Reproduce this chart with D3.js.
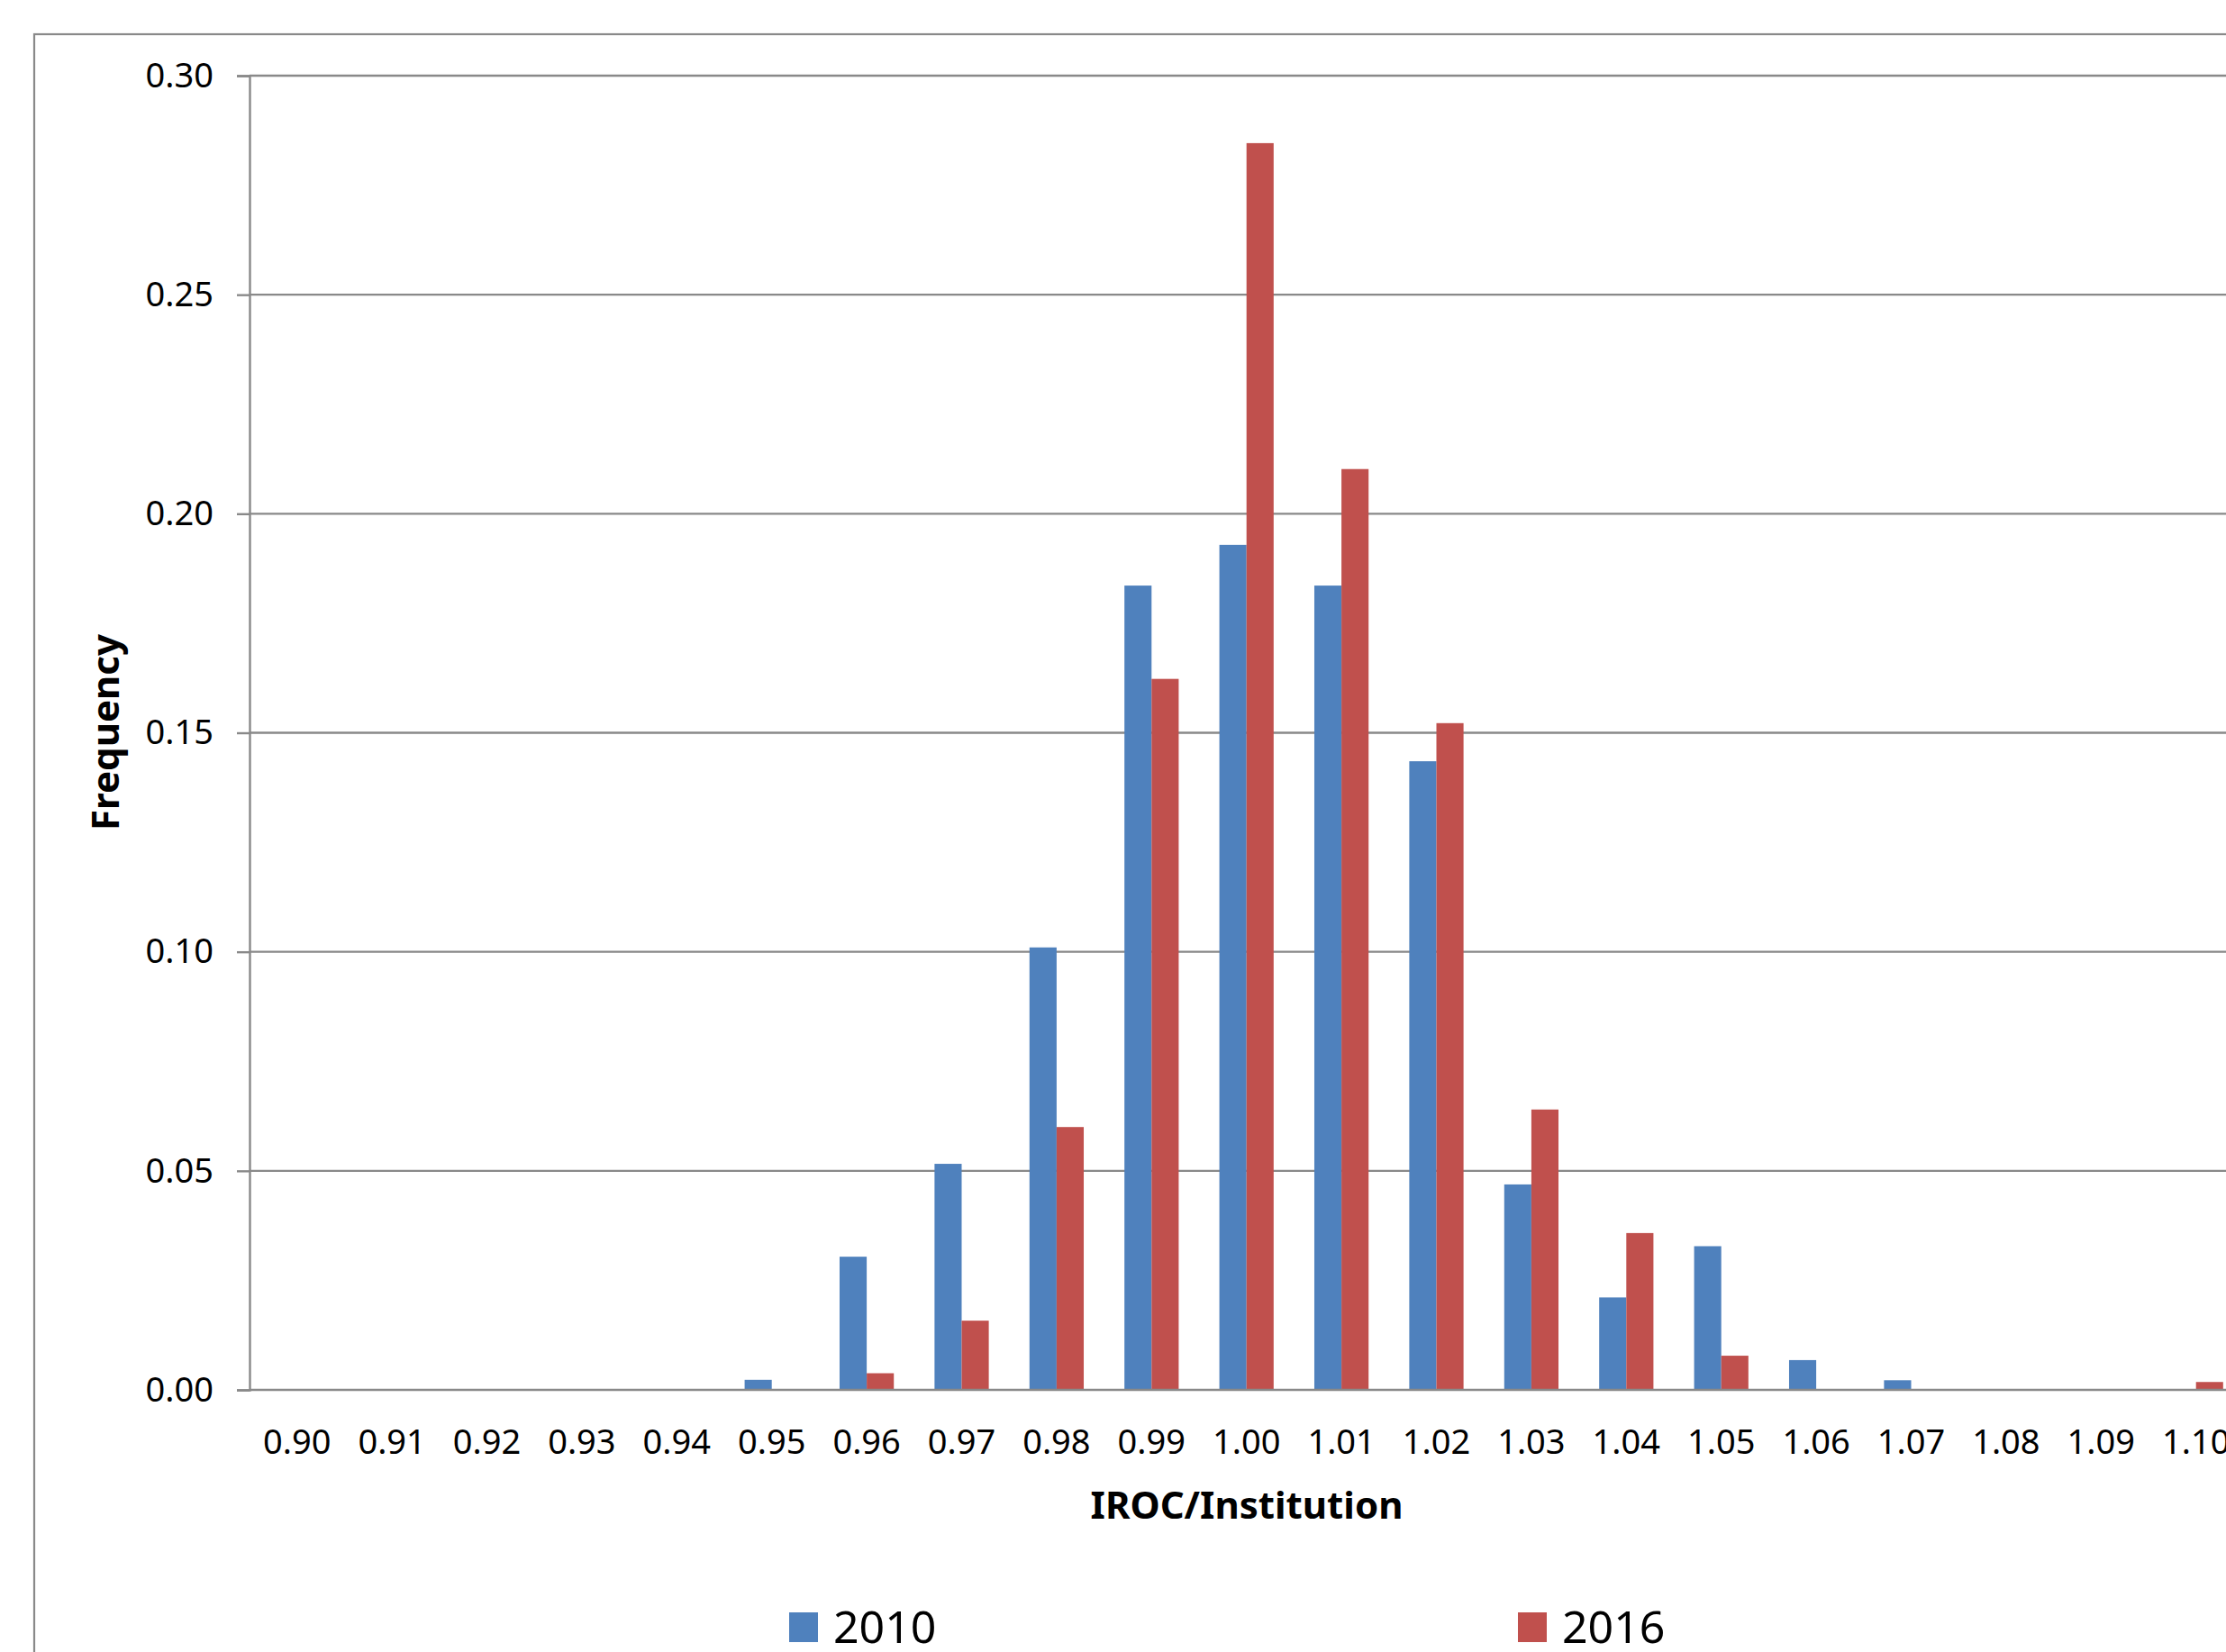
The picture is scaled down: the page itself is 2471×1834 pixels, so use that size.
<!DOCTYPE html>
<html>
<head>
<meta charset="utf-8">
<script src="https://cdn.jsdelivr.net/npm/d3@7"></script>
<style>
  html, body { margin: 0; padding: 0; background: #fff; overflow: hidden; }
  svg { display: block; }
  text { font-family: "Noto Sans", "Open Sans", sans-serif; fill: #000; }
</style>
</head>
<body>
<svg id="chart" width="2471" height="1834"></svg>
<script>
// ---- data ----
const categories = ["0.90","0.91","0.92","0.93","0.94","0.95","0.96","0.97","0.98","0.99","1.00",
                    "1.01","1.02","1.03","1.04","1.05","1.06","1.07","1.08","1.09","1.10"];
const seriesNames = ["2010", "2016"];
const values2010 = [0,0,0,0,0,0.0023,0.0304,0.0516,0.1010,0.1836,0.1929,
                    0.1836,0.1435,0.0469,0.0211,0.0328,0.0068,0.0022,0,0,0];
const values2016 = [0,0,0,0,0,0,0.0038,0.0158,0.0600,0.1623,0.2846,
                    0.2102,0.1522,0.0640,0.0358,0.0078,0,0,0,0,0.0018];
const yTicks = [0, 0.05, 0.10, 0.15, 0.20, 0.25, 0.30];
const xTitle = "IROC/Institution";
const yTitle = "Frequency";

// ---- layout ----
const colors = {"2010": "#4F81BD", "2016": "#C0504D"};
const gridColor = "#898989";
const plotLeft = 277, plotTop = 84, plotBottom = 1543;
const band = 105.4;

const svg = d3.select("#chart");

// outer chart border (extends beyond visible area)
svg.append("rect")
  .attr("x", 38).attr("y", 38)
  .attr("width", 2600).attr("height", 2000)
  .attr("fill", "none").attr("stroke", gridColor).attr("stroke-width", 2.2);

const x = d3.scaleBand().domain(categories)
  .range([plotLeft, plotLeft + band * categories.length]);
const barW = x.bandwidth() / 3.5;
const x1 = d3.scaleBand().domain(seriesNames).range([0, 2 * barW]);
const y = d3.scaleLinear().domain([0, 0.30]).range([plotBottom, plotTop]);

// gridlines
svg.append("g").selectAll("line")
  .data(yTicks.filter(t => t > 0))
  .join("line")
  .attr("x1", plotLeft).attr("x2", 2600)
  .attr("y1", d => y(d)).attr("y2", d => y(d))
  .attr("stroke", gridColor).attr("stroke-width", 2.4);

// bars
const data = categories.map((c, i) => ({cat: c, vals: [
  {s: "2010", v: values2010[i]}, {s: "2016", v: values2016[i]}
]}));
const groups = svg.append("g").selectAll("g")
  .data(data).join("g")
  .attr("transform", d => `translate(${x(d.cat) + (x.bandwidth() - 2 * barW) / 2},0)`);
groups.selectAll("rect")
  .data(d => d.vals.filter(e => e.v > 0))
  .join("rect")
  .attr("x", d => x1(d.s))
  .attr("width", x1.bandwidth())
  .attr("y", d => y(d.v))
  .attr("height", d => y(0) - y(d.v))
  .attr("fill", d => colors[d.s]);

// y axis
const yAxis = d3.axisLeft(y).tickValues(yTicks).tickFormat(d3.format(".2f"))
  .tickSize(14).tickPadding(26);
const yg = svg.append("g").attr("transform", `translate(${plotLeft},0)`).call(yAxis);
yg.select(".domain").attr("stroke", gridColor).attr("stroke-width", 2.4);
yg.selectAll(".tick line").attr("stroke", gridColor).attr("stroke-width", 2.4);
yg.selectAll(".tick text").attr("font-size", 38).attr("font-family", "Noto Sans").attr("fill", "#000");

// x axis
const xAxis = d3.axisBottom(x).tickSize(0).tickPadding(44);
const xg = svg.append("g").attr("transform", `translate(0,${plotBottom})`).call(xAxis);
xg.select(".domain").attr("stroke", gridColor).attr("stroke-width", 2.4)
  .attr("d", `M${plotLeft},0H2600`);
xg.selectAll(".tick text").attr("font-size", 38).attr("font-family", "Noto Sans").attr("fill", "#000");

// axis titles
svg.append("text")
  .attr("x", 1384).attr("y", 1686)
  .attr("text-anchor", "middle")
  .attr("font-size", 42).attr("font-weight", "bold")
  .text(xTitle);
svg.append("text")
  .attr("transform", "translate(132,813) rotate(-90)")
  .attr("text-anchor", "middle")
  .attr("font-size", 42).attr("font-weight", "bold")
  .text(yTitle);

// legend
const legendX = [876, 1685];
const leg = svg.append("g").selectAll("g")
  .data(seriesNames).join("g")
  .attr("transform", (d, i) => `translate(${legendX[i]},1790)`);
leg.append("rect").attr("width", 32).attr("height", 33).attr("fill", d => colors[d]);
leg.append("text").attr("x", 49).attr("y", 34)
  .attr("font-size", 50).text(d => d);
</script>
</body>
</html>
